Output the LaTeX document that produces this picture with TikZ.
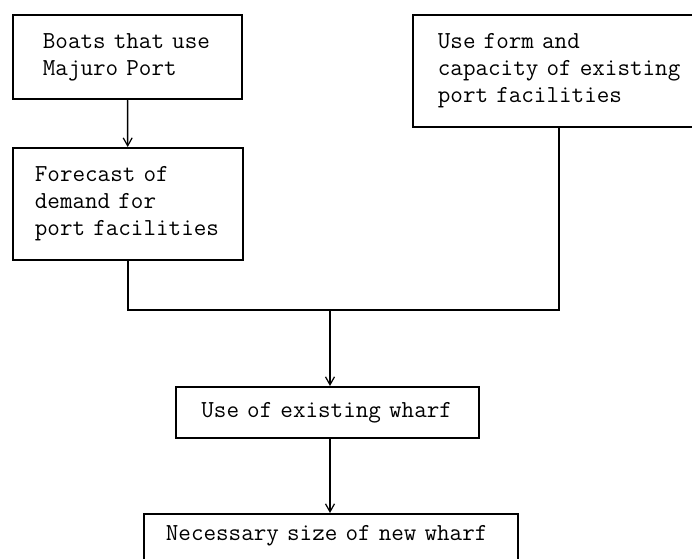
\documentclass[tikz,border=0pt]{standalone}
\usetikzlibrary{positioning,arrows.meta}

\begin{document}
\begin{tikzpicture}[x=1pt, y=-1pt, font=\fontsize{24.4}{27}\selectfont\ttfamily,
    stagebox/.style={rectangle, draw, line width=1.8pt, anchor=north west, align=left},
    flow/.style={line width=1.4pt, -{Straight Barb[length=8pt, width=9pt, line width=1.2pt]}}]
                \clip (0,0) rectangle (692,558);
                \node (boats) [stagebox, text width=169pt, inner xsep=30pt, minimum height=84pt] at (12,14) {Boats that use\\Majuro Port};
                \node (forecast) [stagebox, text width=186pt, inner xsep=22pt, minimum height=112pt] at (12,147) {Forecast of\\demand for\\port facilities};
                \node (usecap) [stagebox, text width=270pt, inner xsep=25pt, minimum height=112pt] at (412,14) {Use form and\\capacity of existing\\port facilities};
                \node (existing) [stagebox, text width=252pt, inner xsep=25.5pt, minimum height=51pt] at (175,386) {Use of existing wharf};
                \node (newsize) [stagebox, text width=330pt, inner xsep=22pt, inner ysep=8pt, text height=19pt, text depth=40pt] at (143,513) {Necessary size of new wharf};
                \coordinate (join) at (330,310);

			\draw[flow] (boats) -- (forecast);
			\draw[flow, -] (forecast.south) |- (join);
			\draw[flow, -] (usecap.south -| 559,0) |- (join);
                \draw[flow] (join) -- (join |- existing.north);
                \draw[flow] (join |- existing.south) -- (join |- newsize.north);
	\end{tikzpicture}
\end{document}
